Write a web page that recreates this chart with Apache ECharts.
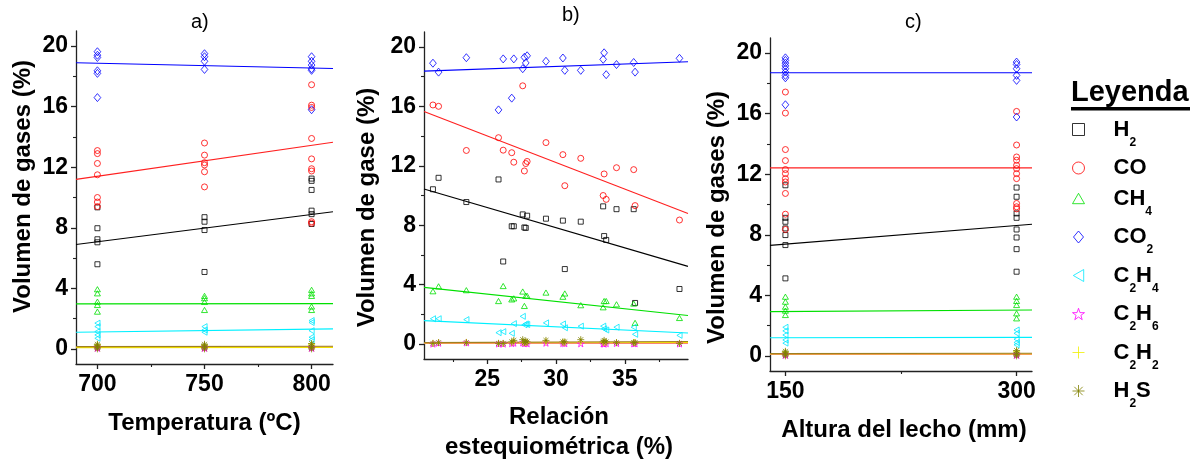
<!DOCTYPE html>
<html><head><meta charset="utf-8">
<script src="https://cdn.jsdelivr.net/npm/echarts@6/dist/echarts.min.js"></script>
<style>html,body{margin:0;padding:0;background:#fff}#c{width:1202px;height:467px}</style>
</head><body><div id="c"></div>
<script>
// ---------------- DATA ----------------
const gases = ['H2', 'CO', 'CH4', 'CO2', 'C2H4', 'C2H6', 'C2H2', 'H2S'];

// Panel a) values grouped by temperature (700, 750, 800 ºC)
const aTemp = [700, 750, 800];
const aH2   = [[9.35, 7.97, 7.24, 7.04, 5.59], [8.7, 8.4, 7.85, 5.08], [11.25, 11.1, 10.5, 9.13, 8.9, 8.25]];
const aCO   = [[13.1, 12.9, 12.25, 11.5, 10.0, 9.7, 9.4], [13.6, 12.8, 12.3, 12.15, 11.7, 10.7], [17.45, 16.1, 15.95, 13.9, 12.55, 11.9, 11.75, 8.4, 8.3]];
const aCH4  = [[3.94, 3.67, 3.12, 2.9, 2.46], [3.5, 3.35, 3.1, 2.57], [3.9, 3.67, 3.5, 2.8, 2.57]];
const aCO2  = [[19.63, 19.4, 19.25, 18.37, 18.2, 16.6], [19.5, 19.3, 19.0, 18.46], [19.3, 19.0, 18.75, 18.5, 18.4, 15.8]];
const aC2H4 = [[1.7, 1.47, 1.14, 0.92, 0.7], [1.47, 1.25, 1.1], [1.87, 1.74, 1.2, 0.77, 0.6]];
const aC2H6 = [[0.05, 0.1], [0.05, 0.1], [0.05, 0.1]];
const aC2H2 = [[0.1, 0.25], [0.1, 0.25], [0.1, 0.3]];
const aH2S  = [[0.0, 0.1, 0.2, 0.3], [0.0, 0.1, 0.2, 0.3], [0.0, 0.1, 0.2, 0.35]];
// Panel a) fitted lines (values at x = 690 and 810)
const aFitX = [690, 810];
const aFitH2 = [6.9, 9.06], aFitCO = [11.2, 13.65], aFitCH4 = [2.97, 2.99], aFitCO2 = [18.9, 18.52];
const aFitC2H4 = [1.1, 1.32], aFitC2H6 = [0.1, 0.12], aFitC2H2 = [0.08, 0.1], aFitH2S = [0.15, 0.17];

// Panel b) one value per experiment, x = relación estequiométrica (%)
const bX    = [21.05, 21.46, 23.48, 25.82, 26.16, 26.78, 26.93, 27.58, 27.7, 27.8, 27.9, 29.27, 30.5, 30.64, 31.8, 33.43, 33.5, 33.65, 34.4, 35.65, 35.75, 38.98];
const bH2   = [10.42, 11.19, 9.56, 11.08, 5.56, 7.93, 7.93, 8.73, 7.85, 7.82, 8.64, 8.44, 8.31, 5.05, 8.24, 9.27, 7.27, 7.01, 9.08, 9.08, 2.77, 3.71];
const bCO   = [16.09, 16.0, 13.03, 13.89, 13.05, 12.88, 12.24, 17.38, 11.65, 12.15, 12.29, 13.56, 12.75, 10.66, 12.5, 10.0, 11.45, 9.74, 11.87, 11.74, 9.32, 8.35];
const bCH4  = [3.56, 3.89, 3.63, 2.9, 3.91, 3.01, 3.08, 3.54, 2.57, 3.25, 3.25, 3.47, 3.19, 3.41, 2.62, 2.48, 2.9, 2.9, 2.68, 2.73, 1.43, 1.76];
const bCO2  = [18.9, 18.3, 19.27, 15.76, 19.19, 16.55, 19.19, 18.53, 19.3, 18.92, 19.4, 19.03, 19.25, 18.42, 18.42, 19.16, 19.6, 18.13, 18.81, 18.95, 18.3, 19.23];
const bC2H4 = [1.71, 1.71, 1.65, 0.77, 0.84, 0.73, 1.38, 1.87, 1.3, 1.36, 1.32, 1.43, 1.36, 1.1, 1.21, 1.21, 1.03, 0.95, 1.14, 1.14, 0.66, 0.59];
const bC2H6 = [0.02, 0.08, 0.1, 0.03, 0.02, 0.05, 0.08, 0.1, 0.05, 0.08, 0.04, 0.08, 0.06, 0.05, 0.04, 0.03, 0.02, 0.05, 0.06, 0.04, 0.04, 0.03];
const bC2H2 = [0.05, 0.1, 0.12, 0.05, 0.04, 0.1, 0.15, 0.12, 0.1, 0.12, 0.1, 0.15, 0.12, 0.1, 0.15, 0.1, 0.12, 0.1, 0.1, 0.1, 0.1, 0.05];
const bH2S  = [0.05, 0.1, 0.1, 0.05, 0.05, 0.15, 0.25, 0.3, 0.1, 0.2, 0.15, 0.25, 0.15, 0.15, 0.3, 0.15, 0.25, 0.15, 0.1, 0.1, 0.1, 0.05];
// Panel b) fitted lines (values at x = 20.4 and 39.6)
const bFitX = [20.4, 39.6];
const bFitH2 = [10.44, 5.23], bFitCO = [15.65, 8.79], bFitCH4 = [3.82, 1.93], bFitCO2 = [18.37, 19.0];
const bFitC2H4 = [1.58, 0.75], bFitC2H6 = [0.05, 0.05], bFitC2H2 = [0.08, 0.1], bFitH2S = [0.1, 0.18];

// Panel c) values grouped by bed height (150, 300 mm)
const cAlt  = [150, 300];
const cH2   = [[11.27, 9.12, 8.86, 8.42, 7.98, 7.32, 5.12], [11.12, 10.51, 9.41, 9.12, 8.35, 7.82, 7.05, 5.56]];
const cCO   = [[17.43, 16.04, 13.63, 12.9, 12.31, 12.04, 11.71, 11.49, 10.73, 9.36, 8.35], [16.15, 13.93, 13.14, 12.92, 12.59, 12.37, 12.04, 11.71, 10.07, 9.85, 9.71]];
const cCH4  = [[3.91, 3.58, 3.25, 2.99, 2.7], [3.91, 3.63, 3.36, 2.81, 2.48]];
const cCO2  = [[19.69, 19.52, 19.34, 19.16, 18.97, 18.75, 18.53, 18.37, 16.59], [19.41, 19.25, 18.97, 18.53, 18.2, 15.78]];
const cC2H4 = [[1.89, 1.65, 1.38, 1.05, 0.84], [1.71, 1.49, 1.1, 0.88, 0.73]];
const cC2H6 = [[0.05, 0.1], [0.05, 0.1]];
const cC2H2 = [[0.1, 0.25], [0.1, 0.3]];
const cH2S  = [[0.0, 0.1, 0.2, 0.3], [0.0, 0.1, 0.2, 0.35]];
// Panel c) fitted lines (values at x = 140 and 310)
const cFitX = [140, 310];
const cFitH2 = [7.3, 8.7], cFitCO = [12.42, 12.42], cFitCH4 = [2.92, 3.03], cFitCO2 = [18.7, 18.7];
const cFitC2H4 = [1.2, 1.22], cFitC2H6 = [0.1, 0.1], cFitC2H2 = [0.12, 0.12], cFitH2S = [0.15, 0.17];

// Tick labels
const yMajor = [0, 4, 8, 12, 16, 20];
const yMinor = [2, 6, 10, 14, 18];
const aMajor = [700, 750, 800], aMinor = [725, 775];
const bMajor = [25, 30, 35], bMinor = [22.5, 27.5, 32.5, 37.5];
const cMajor = [150, 300], cMinor = [225];

// ---------------- STYLE ----------------
const F = 'Liberation Sans, Arial, Helvetica, sans-serif';
const colors = ['#000000', '#ff0000', '#00e000', '#0000ff', '#00e8ff', '#ff00ff', '#f0f000', '#808000'];
const fitColors = ['#000000', '#ff2020', '#00e000', '#0000ff', '#00f0ff', '#ff60a0', '#f0e000', '#a08020'];
const symbols = [
  'path://M0,0L10,0L10,10L0,10Z',
  'path://M10,5A5,5,0,1,1,0,5A5,5,0,1,1,10,5Z',
  'path://M5,0L10,8.66L0,8.66Z',
  'path://M5,0L10,6L5,12L0,6Z',
  'path://M0,5L8.66,0L8.66,10Z',
  'path://M5,0L6.18,3.45L9.76,3.45L6.9,5.6L7.94,9.05L5,6.9L2.06,9.05L3.1,5.6L0.24,3.45L3.82,3.45Z',
  'path://M5,0L5,10M0,5L10,5',
  'path://M5,0L5,10M0,5L10,5M1.5,1.5L8.5,8.5M8.5,1.5L1.5,8.5'
];
const sizes = [5, 6, 6, 8, 6, 7, 7, 7];

const aSets = [aH2, aCO, aCH4, aCO2, aC2H4, aC2H6, aC2H2, aH2S];
const aFits = [aFitH2, aFitCO, aFitCH4, aFitCO2, aFitC2H4, aFitC2H6, aFitC2H2, aFitH2S];
const bSets = [bH2, bCO, bCH4, bCO2, bC2H4, bC2H6, bC2H2, bH2S];
const bFits = [bFitH2, bFitCO, bFitCH4, bFitCO2, bFitC2H4, bFitC2H6, bFitC2H2, bFitH2S];
const cSets = [cH2, cCO, cCH4, cCO2, cC2H4, cC2H6, cC2H2, cH2S];
const cFits = [cFitH2, cFitCO, cFitCH4, cFitCO2, cFitC2H4, cFitC2H6, cFitC2H2, cFitH2S];

function grouped(xs, groups) {
  const out = [];
  groups.forEach((g, i) => g.forEach(v => out.push([xs[i], v])));
  return out;
}
function paired(xs, ys) { return xs.map((x, i) => [x, ys[i]]); }

const grids = [
  { left: 76, top: 31, width: 257, height: 333 },
  { left: 424, top: 32, width: 264, height: 333 },
  { left: 770, top: 38, width: 262, height: 333 }
];
const xr = [[690, 810], [20.4, 39.6], [140, 310]];
const xMaj = [aMajor, bMajor, cMajor], xMin = [aMinor, bMinor, cMinor];
const axisColor = '#222';

const xAxis = [], yAxis = [];
for (let g = 0; g < 3; g++) {
  xAxis.push({
    type: 'value', gridIndex: g, min: xr[g][0], max: xr[g][1], position: 'bottom',
    axisLine: { onZero: false, lineStyle: { color: axisColor, width: 1.3 } },
    axisTick: { show: true, customValues: xMaj[g], length: 5, lineStyle: { color: axisColor, width: 1.3 } },
    axisLabel: { customValues: xMaj[g], margin: 9, color: '#000', fontFamily: F, fontWeight: 'bold', fontSize: 23 },
    splitLine: { show: false }
  });
  xAxis.push({
    type: 'value', gridIndex: g, min: xr[g][0], max: xr[g][1], position: 'bottom',
    axisLine: { show: false, onZero: false },
    axisTick: { show: true, customValues: xMin[g], length: 3, lineStyle: { color: axisColor, width: 1.1 } },
    axisLabel: { show: false }, splitLine: { show: false }
  });
  yAxis.push({
    type: 'value', gridIndex: g, min: -1, max: 21, position: 'left',
    axisLine: { show: true, onZero: false, lineStyle: { color: axisColor, width: 1.3 } },
    axisTick: { show: true, customValues: yMajor, length: 5, lineStyle: { color: axisColor, width: 1.3 } },
    axisLabel: { customValues: yMajor, margin: 8, color: '#000', fontFamily: F, fontWeight: 'bold', fontSize: 23 },
    splitLine: { show: false }
  });
  yAxis.push({
    type: 'value', gridIndex: g, min: -1, max: 21, position: 'left',
    axisLine: { show: false, onZero: false },
    axisTick: { show: true, customValues: yMinor, length: 3, lineStyle: { color: axisColor, width: 1.1 } },
    axisLabel: { show: false }, splitLine: { show: false }
  });
}
// axis names
const nameStyle = { color: '#000', fontFamily: F, fontWeight: 'bold', fontSize: 24 };
xAxis[0].name = 'Temperatura (ºC)';
xAxis[0].nameLocation = 'middle'; xAxis[0].nameGap = 47; xAxis[0].nameTextStyle = nameStyle;
xAxis[2].name = 'Relación\nestequiométrica (%)';
xAxis[2].nameLocation = 'middle'; xAxis[2].nameGap = 43;
xAxis[2].nameTextStyle = Object.assign({}, nameStyle, { lineHeight: 30, padding: [0, 0, 0, 6] });
xAxis[4].name = 'Altura del lecho (mm)';
xAxis[4].nameLocation = 'middle'; xAxis[4].nameGap = 47;
xAxis[4].nameTextStyle = Object.assign({}, nameStyle, { padding: [0, 0, 0, 6] });
yAxis[0].name = 'Volumen de gases (%)';
yAxis[0].nameLocation = 'middle'; yAxis[0].nameGap = 41;
yAxis[0].nameTextStyle = Object.assign({}, nameStyle, { padding: [0, 0, 0, 22] });
yAxis[2].name = 'Volumen de gase (%)';
yAxis[2].nameLocation = 'middle'; yAxis[2].nameGap = 45;
yAxis[2].nameTextStyle = Object.assign({}, nameStyle, { padding: [0, 24, 0, 0] });
yAxis[4].name = 'Volumen de gases (%)';
yAxis[4].nameLocation = 'middle'; yAxis[4].nameGap = 41;
yAxis[4].nameTextStyle = Object.assign({}, nameStyle, { padding: [0, 26, 0, 0] });

const series = [];
const panelData = [
  { sets: aSets, fits: aFits, fx: aFitX, mk: s => grouped(aTemp, s) },
  { sets: bSets, fits: bFits, fx: bFitX, mk: s => paired(bX, s) },
  { sets: cSets, fits: cFits, fx: cFitX, mk: s => grouped(cAlt, s) }
];
// fitted lines first (drawn under markers)
panelData.forEach((p, g) => {
  gases.forEach((gas, k) => {
    series.push({
      type: 'line', name: gas + ' ajuste ' + g, xAxisIndex: 2 * g, yAxisIndex: 2 * g,
      data: paired(p.fx, p.fits[k]), showSymbol: false, symbol: 'none', silent: true,
      lineStyle: { color: fitColors[k], width: 1.1 }, z: 1, animation: false
    });
  });
});
panelData.forEach((p, g) => {
  gases.forEach((gas, k) => {
    series.push({
      type: 'scatter', name: gas, xAxisIndex: 2 * g, yAxisIndex: 2 * g,
      data: p.mk(p.sets[k]), symbol: symbols[k], symbolSize: sizes[k], symbolKeepAspect: true,
      itemStyle: { color: 'rgba(0,0,0,0)', borderColor: colors[k], borderWidth: 1 },
      emphasis: { disabled: true }, silent: true, z: 3, animation: false
    });
  });
});

const subFmt = name => name.replace(/([A-Z][a-z]?)(\d?)/g, (m, el, d) => '{m|' + el + '}' + (d ? '{s|' + d + '}' : ''));

const option = {
  backgroundColor: '#fff',
  animation: false,
  title: [
    { text: 'a)', left: 191, top: 12, padding: 0, textStyle: { fontFamily: F, fontWeight: 'normal', fontSize: 20, color: '#000' } },
    { text: 'b)', left: 562, top: 5, padding: 0, textStyle: { fontFamily: F, fontWeight: 'normal', fontSize: 20, color: '#000' } },
    { text: 'c)', left: 905, top: 12, padding: 0, textStyle: { fontFamily: F, fontWeight: 'normal', fontSize: 20, color: '#000' } },
    { text: 'Leyenda', left: 1071, top: 78, padding: 0, textStyle: { fontFamily: F, fontWeight: 'bold', fontSize: 29, color: '#000' } }
  ],
  graphic: [
    { type: 'rect', left: 1071, top: 107, shape: { width: 119, height: 3.5 }, style: { fill: '#000' }, silent: true }
  ],
  grid: grids,
  xAxis: xAxis,
  yAxis: yAxis,
  legend: {
    data: gases, orient: 'vertical', left: 1072, top: 111, padding: 0,
    itemWidth: 12, itemHeight: 12, itemGap: 1.0, selectedMode: false,
    itemStyle: { borderWidth: 1 },
    formatter: subFmt,
    textStyle: {
      color: '#000', fontFamily: F, fontWeight: 'bold', fontSize: 22, height: 37, padding: [0, 0, 0, 24],
      rich: {
        m: { color: '#000', fontFamily: F, fontWeight: 'bold', fontSize: 22, lineHeight: 22, verticalAlign: 'top', padding: [7.5, 0, 0, 0] },
        s: { color: '#000', fontFamily: F, fontWeight: 'bold', fontSize: 12, lineHeight: 12, verticalAlign: 'top', padding: [25.5, 0, 0, 0] }
      }
    }
  },
  series: series
};

const chart = echarts.init(document.getElementById('c'), null, { renderer: 'canvas' });
chart.setOption(option);
</script>
</body></html>
